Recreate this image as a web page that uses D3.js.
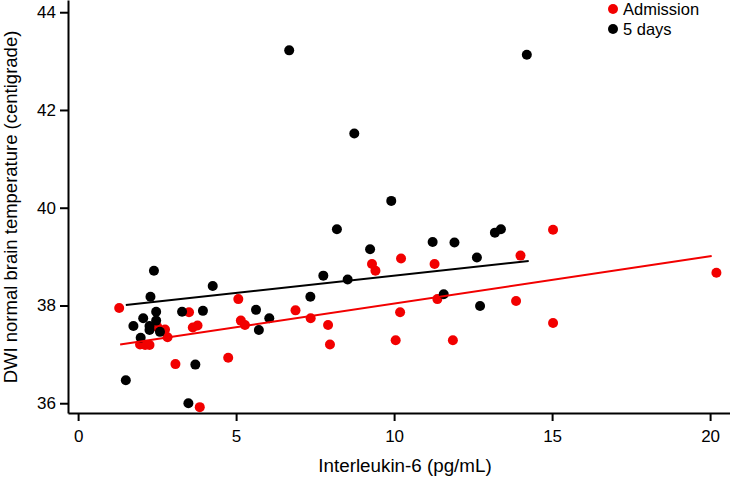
<!DOCTYPE html>
<html><head><meta charset="utf-8">
<script src="https://cdn.jsdelivr.net/npm/d3@7/dist/d3.min.js"></script>
<style>body{margin:0;background:#fff}svg{display:block}text{font-family:"Liberation Sans",Arial,sans-serif}</style>
</head><body>
<svg id="c" width="730" height="477"></svg>
<script>
const seriesNames = ["Admission", "5 days"];
const seriesColors = ["#f20000", "#000000"];
const admissionX = [1.30,1.96,2.12,2.26,2.51,2.75,2.83,3.08,3.51,3.63,3.78,3.85,4.75,5.07,5.15,5.28,6.88,7.36,7.91,7.97,9.30,9.41,10.05,10.19,10.22,11.28,11.37,11.86,13.86,14.00,15.03,15.03,20.20];
const admissionY = [37.95,37.20,37.19,37.19,37.56,37.51,37.35,36.80,37.86,37.55,37.59,35.92,36.93,38.13,37.69,37.60,37.90,37.74,37.60,37.20,38.85,38.71,37.29,37.86,38.96,38.85,38.13,37.29,38.09,39.02,39.55,37.64,38.67];
const day5X = [1.51,1.75,1.98,2.06,2.26,2.26,2.29,2.40,2.47,2.47,2.59,3.29,3.49,3.71,3.95,4.26,5.63,5.72,6.05,6.68,7.35,7.76,8.19,8.53,8.74,9.24,9.91,11.22,11.57,11.91,12.62,12.72,13.19,13.38,14.20];
const day5Y = [36.47,37.58,37.34,37.74,37.58,37.50,38.18,38.71,37.87,37.69,37.46,37.87,36.00,36.79,37.89,38.40,37.91,37.50,37.74,43.22,38.18,38.61,39.56,38.53,41.52,39.15,40.14,39.30,38.23,39.29,38.98,37.99,39.49,39.56,43.13];
// fitted regression lines (endpoints)
const admissionFitX = [1.33, 20.05];
const admissionFitY = [37.20, 39.01];
const day5FitX = [1.51, 14.26];
const day5FitY = [38.01, 38.91];
const xTicks = [0,5,10,15,20];
const yTicks = [36,38,40,42,44];
const xTitle = "Interleukin-6 (pg/mL)";
const yTitle = "DWI normal brain temperature (centigrade)";

const svg = d3.select("#c");
const x = d3.scaleLinear().domain([-0.32, 20.63]).range([68, 730]);
const y = d3.scaleLinear().domain([35.8, 44.25]).range([413, 0]);

const series = [
  {name: seriesNames[0], color: seriesColors[0], xs: admissionX, ys: admissionY, fx: admissionFitX, fy: admissionFitY},
  {name: seriesNames[1], color: seriesColors[1], xs: day5X, ys: day5Y, fx: day5FitX, fy: day5FitY}
];

series.forEach(s => {
  svg.append("g").selectAll("circle").data(s.xs.map((v,i)=>[v,s.ys[i]])).join("circle")
    .attr("cx", d=>x(d[0])).attr("cy", d=>y(d[1])).attr("r", 5).attr("fill", s.color);
});
series.forEach(s => {
  svg.append("path").datum(s.fx.map((v,i)=>[v,s.fy[i]]))
    .attr("d", d3.line().x(d=>x(d[0])).y(d=>y(d[1])))
    .attr("stroke", s.color).attr("stroke-width", 2).attr("fill", "none");
});

const xa = svg.append("g").attr("transform", "translate(0,413)")
  .call(d3.axisBottom(x).tickValues(xTicks).tickSize(8).tickSizeOuter(0).tickPadding(9));
const ya = svg.append("g").attr("transform", "translate(68,0)")
  .call(d3.axisLeft(y).tickValues(yTicks).tickSize(8).tickSizeOuter(0).tickPadding(4));
[xa, ya].forEach(a => {
  a.select(".domain").attr("stroke-width", 2);
  a.selectAll(".tick line").attr("stroke-width", 2);
  a.selectAll(".tick text").attr("font-size", 17).attr("fill", "#000")
    .style("font-family", '"Liberation Sans",Arial,sans-serif');
});

svg.append("text").attr("x", 405).attr("y", 472).attr("text-anchor", "middle")
  .attr("font-size", 18.8).text(xTitle);
svg.append("text").attr("transform", "translate(17,207) rotate(-90)").attr("text-anchor", "middle")
  .attr("font-size", 18.5).text(yTitle);

const lg = svg.append("g");
series.forEach((s,i) => {
  lg.append("circle").attr("cx", 613).attr("cy", 9 + i*20).attr("r", 5).attr("fill", s.color);
  lg.append("text").attr("x", 623).attr("y", 15 + i*20).attr("font-size", 16.5).text(s.name);
});
</script>
</body></html>
